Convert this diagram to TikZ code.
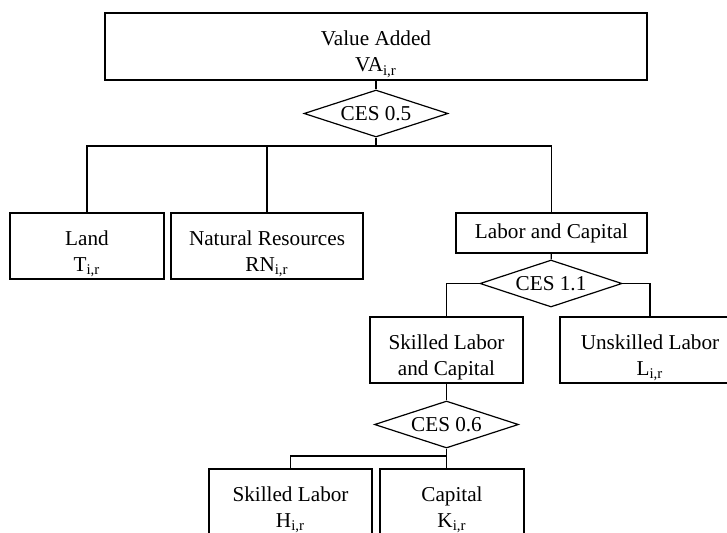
\documentclass[tikz,border=0pt]{standalone}
\usepackage{fontspec}
\setmainfont{Liberation Serif}
\usetikzlibrary{shapes.geometric}
\usetikzlibrary{positioning}

\newcommand{\topgap}{\rule{0pt}{15pt}}

\begin{document}
\begin{tikzpicture}[x=0.5pt,y=-0.5pt,-,semithick,
    font=\fontsize{10.6}{13}\selectfont]
    \tikzstyle{nest}=[draw, rectangle, align=center, inner sep=0pt]
    \tikzstyle{ces}=[draw, diamond, aspect=3, inner sep=0pt,
        minimum width=72pt, minimum height=23.5pt]
    \path[use as bounding box, clip] (0,0) rectangle (727,532);

    % top level
    \node[nest, line width=0.8pt, minimum width=271pt, minimum height=33.5pt] (VA) at (376,46.5)
        {\topgap Value Added\\VA\textsubscript{i,r}};
    \node[ces] (CES1) at (376,113.5) {CES 0.5};

    \node[nest, minimum width=77pt, minimum height=33pt] (T) at (87,246)
        {\topgap Land\\T\textsubscript{i,r}};
    \node[nest, minimum width=96pt, minimum height=33pt] (RN) at (267,246)
        {\topgap Natural Resources\\RN\textsubscript{i,r}};
    \node[nest, minimum width=95.5pt, minimum height=20pt] (LC) at (551.5,233)
        {Labor and Capital};
    \node[ces, minimum width=71pt] (CES2) at (551,283.5) {CES 1.1};

    \node[nest, minimum width=76.5pt, minimum height=33pt] (HK) at (446.5,350)
        {\topgap Skilled Labor\\and Capital};
    \node[nest, minimum width=90pt, minimum height=33pt] (L) at (650,350)
        {\topgap Unskilled Labor\\L\textsubscript{i,r}};
    \node[ces] (CES3) at (446.5,424.5) {CES 0.6};

    \node[nest, minimum width=81.5pt, minimum height=33pt] (H) at (290.5,502)
        {\topgap Skilled Labor\\H\textsubscript{i,r}};
    \node[nest, minimum width=72pt, minimum height=33pt] (K) at (452,502)
        {\topgap Capital\\K\textsubscript{i,r}};

    \coordinate (j1) at (376,146);
    \coordinate (j3) at (446.5,456);

    % branches
    \draw (VA) -- (CES1);
    \draw (CES1.south) -- (j1);
    \draw (T.north) |- (j1) -| (LC.north);
    \draw (RN.north) -- (RN.north |- j1);

    \draw (LC) -- (CES2);
    \draw (CES2.west) -| (HK.north);
    \draw (CES2.east) -| (L.north);

    \draw (HK) -- (CES3);
    \draw (CES3.south) -- (j3) -| (H.north);
    \draw (j3) -- (j3 |- K.north);
\end{tikzpicture}
\end{document}
